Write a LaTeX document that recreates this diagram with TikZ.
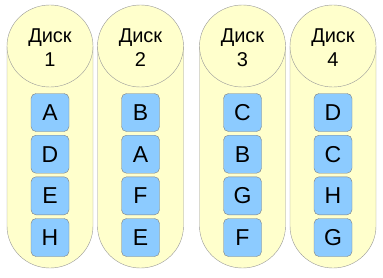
\documentclass[tikz,border=0pt]{standalone}
\usepackage{fontspec}
\setmainfont{Liberation Sans}
\definecolor{diskyellow}{HTML}{FFFFCC}
\definecolor{blockblue}{HTML}{8CCBFF}
\begin{document}
\begin{tikzpicture}[x=1pt,y=1pt,
  disk/.style={draw=black!40,fill=diskyellow},
  block/.style={draw=black!50,fill=blockblue,rounded corners=5pt,minimum size=38pt,inner sep=0pt,font=\fontsize{23}{24}\selectfont},
  lab/.style={align=center,inner sep=0pt,font=\fontsize{20}{24}\selectfont}]
\useasboundingbox (0,0) rectangle (383,277);
\foreach \x/\n/\a/\b/\c/\d in {50/1/A/D/E/H,140.5/2/B/A/F/E,242.5/3/C/B/G/F,333/4/D/C/H/G}
{
  \draw[disk] (\x-43,231) -- (\x-43,51) arc[start angle=180,end angle=360,x radius=43,y radius=42] -- (\x+43,231);
  \draw[disk] (\x,231) ellipse[x radius=43,y radius=41];
  \node[lab] (disk\n) at (\x,229) {Диск\\\n};
  \node[block] (blk\n-1) at (\x,164.5) {\a};
  \node[block] (blk\n-2) at (\x,122.8) {\b};
  \node[block] (blk\n-3) at (\x,81.2) {\c};
  \node[block] (blk\n-4) at (\x,39.5) {\d};
}
\end{tikzpicture}
\end{document}
